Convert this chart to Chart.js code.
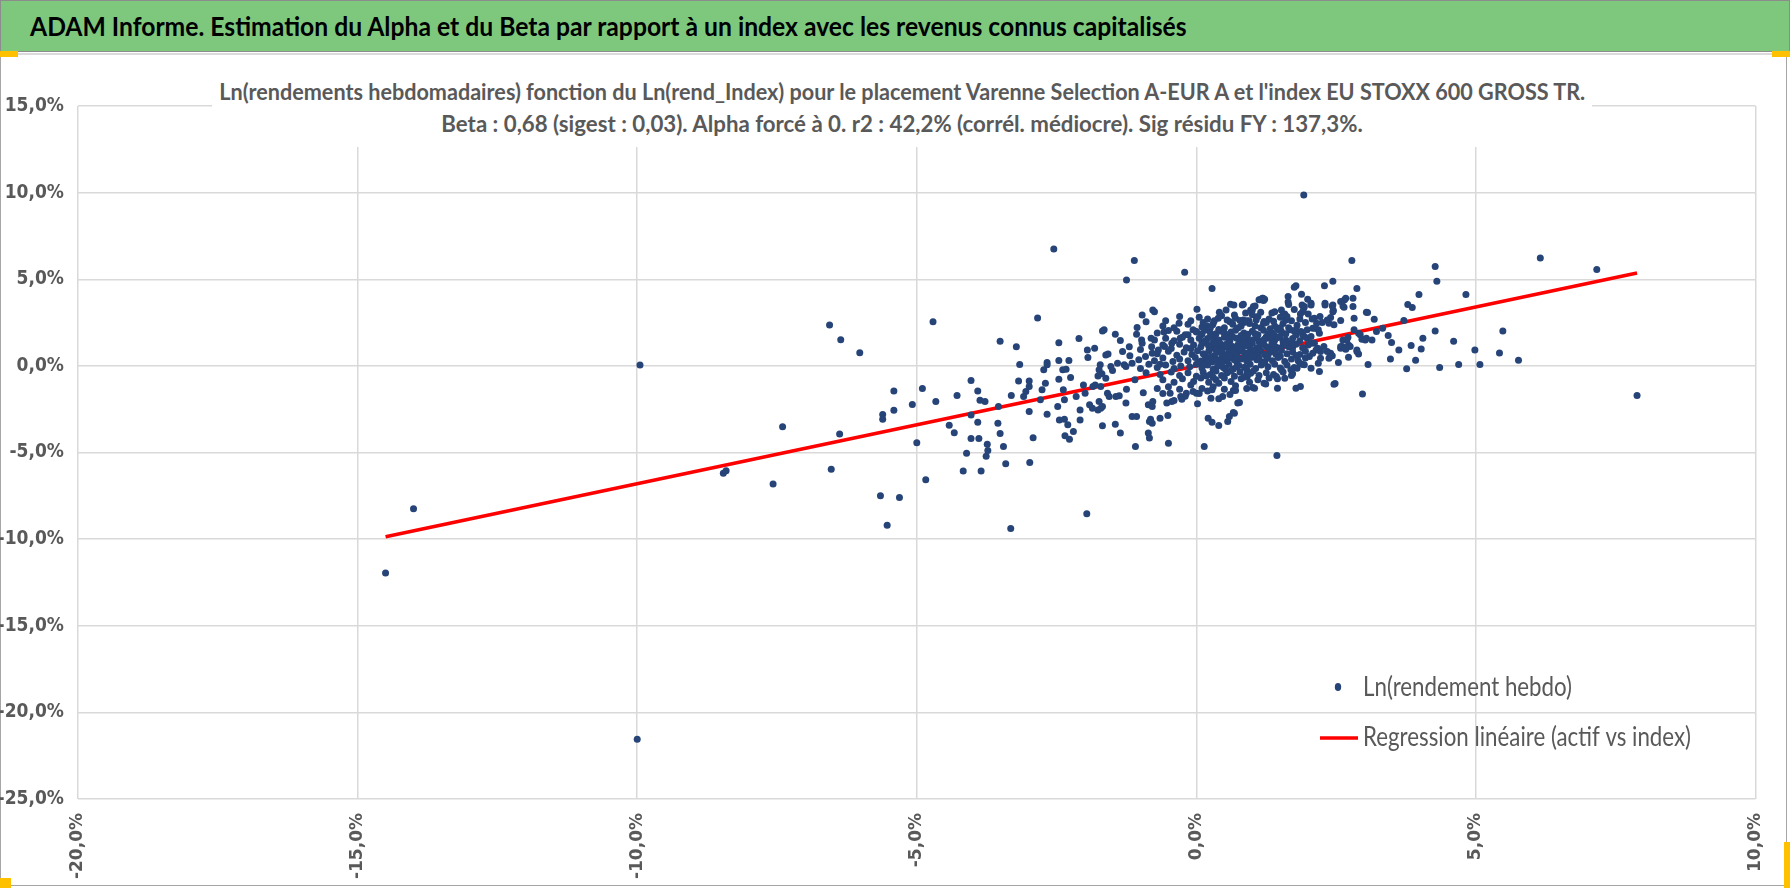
<!DOCTYPE html>
<html>
<head>
<meta charset="utf-8">
<title>ADAM Informe - Alpha et Beta</title>
<script src="https://cdn.jsdelivr.net/npm/chart.js@4.4.0/dist/chart.umd.min.js"></script>
<style>
  html, body { margin: 0; padding: 0; background: #fff; }
  body { width: 1790px; height: 888px; position: relative; overflow: hidden; font-family: Lato, sans-serif; }
  #banner { position: absolute; left: 0; top: 0; width: 1788px; height: 50px;
            background: #7ec87e; border: 1px solid #8c8c8c; }
  #titleText { position: absolute; left: 29px; top: 0; line-height: 50px; transform-origin: 0 50%;
               font-size: 27px; font-weight: bold; color: #000; white-space: nowrap; }
  #frame { position: absolute; left: 0; top: 53px; width: 1785px; height: 830px;
           border: 1px solid #a6a6a6; border-top: 2px solid #dadada; }
  #chart { position: absolute; left: 0; top: 0; }
  #subtitle { position: absolute; left: 212px; top: 59px; width: 1380px;
              padding: 16px 0 8px 0; background: #fff;
              color: #595959; font-weight: bold; font-size: 23px; line-height: 32px;
              white-space: nowrap; }
  #subtitle div { display: flex; justify-content: center; }
  #subtitle span { display: inline-block; transform-origin: 50% 50%; }
  .handle { position: absolute; background: #ffc000; }
</style>
</head>
<body>
<div id="banner"><span id="titleText">ADAM Informe. Estimation du Alpha et du Beta par rapport à un index avec les revenus connus capitalisés</span></div>
<div id="frame"></div>
<canvas id="chart" width="1790" height="888"></canvas>
<div id="subtitle"><div><span id="sub1">Ln(rendements hebdomadaires) fonction du Ln(rend_Index) pour le placement Varenne Selection A-EUR A et l'index EU STOXX 600 GROSS TR.</span></div><div><span id="sub2">Beta : 0,68 (sigest : 0,03). Alpha forcé à 0. r2 : 42,2% (corrél. médiocre). Sig résidu FY : 137,3%.</span></div></div>
<div class="handle" style="left:0;top:51px;width:18px;height:6px"></div>
<div class="handle" style="left:1772px;top:51px;width:18px;height:6px"></div>
<div class="handle" style="left:0;top:878px;width:11px;height:10px"></div>
<div class="handle" style="left:1784px;top:842px;width:6px;height:46px"></div>
<script>
const FONT = 'Lato, sans-serif';

// Axis ticks (in %)
const xTicks = [-20, -15, -10, -5, 0, 5, 10];
const yTicks = [15, 10, 5, 0, -5, -10, -15, -20, -25];

// Regression line end points (index %, fund %)
const regressionX = [-14.5, 7.88];
const regressionY = [-9.86, 5.36];

// Weekly ln returns: [index %, fund %]
const farPoints = [
    [-14.5, -11.95], [-14.0, -8.25], [-9.95, 0.05], [-10.0, -21.55], [7.88, -1.71],
    [1.92, 9.87], [6.15, 6.23], [7.16, 5.56], [-3.32, -9.38], [-1.96, -8.54],
    [1.44, -5.17], [-2.55, 6.75], [-1.11, 6.08], [2.78, 6.08]
];

const leftPoints = [
    [-6.56, 2.36], [-6.36, 1.51], [-6.02, 0.76], [-4.71, 2.54], [-7.40, -3.51], [-6.38, -3.93],
    [-8.46, -6.2], [-8.41, -6.05], [-7.57, -6.82], [-6.53, -5.97], [-5.65, -7.5], [-5.53, -9.2],
    [-5.31, -7.6], [-5.41, -1.45], [-5.41, -2.56], [-5.61, -2.81], [-5.61, -3.08], [-5.08, -2.23],
    [-4.90, -1.30], [-4.66, -2.05], [-5.0, -4.44], [-4.84, -6.57], [-4.42, -3.43], [-4.33, -3.86],
    [-4.28, -1.71], [-4.03, -0.85], [-3.91, -1.45], [-3.87, -1.98], [-3.78, -2.05], [-4.03, -2.83],
    [-3.91, -3.26], [-4.03, -4.19], [-3.89, -4.19], [-3.74, -4.53], [-3.73, -4.88], [-3.76, -5.21],
    [-4.11, -5.04], [-4.17, -6.07], [-3.85, -6.07],
    [-1.25, 4.96], [-0.21, 5.40], [0.28, 4.46], [-2.84, 2.77], [-3.51, 1.42], [-3.22, 1.10],
    [-2.46, 1.33], [-2.10, 1.58], [-3.41, -5.65], [-2.98, -5.58], [-2.92, -4.15], [-3.45, -4.65],
    [-3.51, -3.90], [-3.55, -3.31], [-3.54, -2.35], [-3.16, 0.08], [-3.18, -0.87], [-3.31, -1.71],
    [-3.09, -1.77], [-3.05, -1.48], [-2.99, -0.88], [-2.99, -1.19], [-2.99, -2.63], [-2.67, -2.79],
    [-2.79, -1.96], [-2.76, -1.38], [-2.7, -1.0], [-2.73, -0.23], [-2.67, 0.19], [-2.67, 0.06],
    [-2.46, 0.31], [-2.46, -0.77], [-2.48, -2.35], [-2.45, -3.12], [-2.36, -3.08], [-2.36, -1.96],
    [-2.38, -1.38], [-2.39, -0.23], [-2.33, -0.19], [-2.28, 0.31], [-2.25, -0.67], [-2.35, -4.04],
    [-2.27, -4.23], [-2.2, -3.79], [-2.3, -3.4], [-2.15, -1.77], [-2.08, -2.54], [-2.08, -3.12],
    [-2.02, -1.1], [-1.99, -1.58], [-1.95, 0.92], [-1.94, 0.48], [-1.91, -2.25], [-1.86, -2.44]
];

const midPoints = [
    [0.01, 3.27], [-0.97, 2.94], [-0.78, 3.23], [-0.75, 3.12], [-0.31, 2.46], [-1.65, 2.08],
    [-1.68, 2.02], [-1.45, 1.83], [-1.06, 2.21], [-1.07, 1.83], [-1.36, 1.46], [-0.58, 1.96],
    [-0.5, 2.04], [-0.81, 1.60], [-0.98, 1.5], [-0.97, 1.31], [-1.82, 1.02], [-1.62, 0.63],
    [-1.58, 0.69], [-1.32, 0.83], [-1.19, 0.58], [-1.72, 0.06], [-1.74, -0.23], [-1.53, -0.04],
    [-1.5, -0.27], [-1.41, 0.15], [-1.29, 0.06], [-1.76, -0.58], [-1.69, -0.46], [-1.62, -0.71],
    [-1.85, -1.19], [-1.81, -1.10], [-1.71, -1.19], [-1.59, -1.58], [-1.56, -1.77], [-1.38, -1.73],
    [-1.44, -1.77], [-1.74, -2.06], [-1.76, -2.54], [-1.71, -2.44], [-1.68, -2.35], [-1.26, -2.15],
    [-1.68, -3.46], [-1.45, -3.37], [-1.36, -3.88], [-1.15, -2.92], [-1.07, -2.92], [-1.09, -4.65],
    [-0.86, -3.88], [-0.84, -4.17], [-0.82, -3.08], [-0.79, -3.31], [-0.84, -3.21], [-0.86, -2.25],
    [-0.78, -2.06], [-0.79, -2.35], [-0.65, -3.02], [-0.51, -2.87], [-0.47, -1.58], [-0.44, -2.06],
    [-0.53, -2.15], [-0.5, -4.46], [-0.28, -1.77], [-0.26, -1.92], [-0.18, -1.58], [-0.06, -1.48],
    [0.0, -1.58], [0.02, -2.19], [0.14, -4.65], [0.21, -3.02], [0.28, -3.25], [0.4, -3.44],
    [0.26, -1.87], [0.28, -1.38], [0.47, -1.77], [0.56, -3.21], [0.59, -2.92], [0.66, -2.69],
    [0.74, -2.15], [0.66, -1.42], [1.01, -1.25], [1.21, -1.0], [0.91, -0.62], [0.97, -0.42],
    [0.41, 3.10], [0.39, 2.75], [0.53, 3.23], [0.61, 3.56], [0.68, 2.94], [0.82, 3.52],
    [0.84, 2.65], [0.97, 3.23], [1.02, 3.42], [1.12, 3.81], [1.18, 3.9], [0.94, 2.6],
    [1.07, 2.65], [1.21, 2.56], [0.29, 2.37], [0.18, 2.31], [0.09, 1.79], [-0.06, 2.08],
    [0.0, 1.98], [-0.15, 1.79], [-0.29, 1.6], [-0.44, 1.31], [-0.57, 1.12], [-0.68, 0.92],
    [-0.79, 0.73], [-0.91, 0.54], [-1.03, 0.35], [-1.15, 0.15], [-1.26, -0.04],
    [0.77, -2.12], [0.68, -2.73], [0.7, -1.42], [1.04, -1.29], [0.84, 3.56], [0.67, 3.52],
    [1.0, 3.23], [1.05, 3.46], [1.14, 3.81], [1.19, 3.9]
];

const corePoints = [
    [-0.1, 2.6], [0.2, 2.7], [0.45, 2.9], [0.7, 2.75], [0.9, 2.6], [1.1, 2.85], [1.3, 2.7],
    [1.5, 2.8], [1.7, 2.6], [0.05, 2.8], [0.6, 2.55], [1.0, 2.95], [1.85, 2.7],
    [-0.6, 2.3], [-0.4, 2.2], [-0.15, 2.4], [0.1, 2.25], [0.3, 2.45], [0.5, 2.2], [0.65, 2.4],
    [0.8, 2.3], [0.95, 2.45], [1.15, 2.2], [1.25, 2.5], [1.4, 2.3], [1.55, 2.45], [1.65, 2.2],
    [1.8, 2.35], [1.95, 2.5], [0.25, 2.2], [0.85, 2.5], [1.05, 2.3],
    [-0.7, 1.9], [-0.35, 2.0], [-0.2, 1.8], [0.0, 1.95], [0.15, 2.05], [0.35, 1.85], [0.45, 2.0],
    [0.55, 1.8], [0.7, 2.05], [0.85, 1.9], [1.0, 2.0], [1.1, 1.8], [1.2, 2.05], [1.35, 1.9],
    [1.45, 2.1], [1.6, 1.85], [1.75, 2.0], [1.9, 1.8], [0.25, 1.9], [0.62, 1.95], [0.92, 1.82],
    [1.28, 1.82], [1.52, 1.98], [1.68, 2.08],
    [-0.75, 1.5], [-0.55, 1.6], [-0.4, 1.45], [-0.25, 1.65], [-0.1, 1.5], [0.05, 1.6], [0.15, 1.42],
    [0.28, 1.7], [0.4, 1.5], [0.5, 1.65], [0.6, 1.45], [0.72, 1.6], [0.8, 1.4], [0.9, 1.7],
    [1.0, 1.5], [1.08, 1.62], [1.18, 1.45], [1.3, 1.6], [1.4, 1.48], [1.5, 1.7], [1.6, 1.5],
    [1.72, 1.58], [1.85, 1.45], [1.98, 1.6], [0.35, 1.55], [0.65, 1.68], [0.95, 1.42], [1.25, 1.68],
    [1.55, 1.4], [0.2, 1.58], [0.85, 1.55], [1.12, 1.4],
    [-0.8, 1.1], [-0.6, 1.2], [-0.45, 1.0], [-0.3, 1.25], [-0.18, 1.05], [-0.05, 1.2], [0.08, 1.1],
    [0.18, 1.3], [0.3, 1.02], [0.38, 1.2], [0.48, 1.08], [0.55, 1.28], [0.65, 1.12], [0.75, 1.25],
    [0.82, 1.0], [0.9, 1.18], [1.0, 1.3], [1.08, 1.05], [1.15, 1.22], [1.25, 1.1], [1.35, 1.28],
    [1.45, 1.05], [1.55, 1.2], [1.65, 1.1], [1.78, 1.25], [1.9, 1.05], [2.0, 1.2], [0.22, 1.15],
    [0.42, 1.3], [0.7, 1.05], [0.95, 1.1], [1.2, 1.3], [1.4, 1.15], [1.6, 1.3], [-0.1, 1.0], [0.6, 1.0],
    [-0.7, 0.7], [-0.5, 0.85], [-0.35, 0.62], [-0.22, 0.8], [-0.08, 0.65], [0.02, 0.88], [0.12, 0.7],
    [0.22, 0.85], [0.32, 0.6], [0.4, 0.78], [0.5, 0.65], [0.58, 0.9], [0.68, 0.72], [0.78, 0.85],
    [0.88, 0.62], [0.96, 0.8], [1.05, 0.7], [1.15, 0.88], [1.22, 0.65], [1.32, 0.8], [1.42, 0.68],
    [1.52, 0.9], [1.62, 0.7], [1.72, 0.82], [1.85, 0.65], [1.95, 0.85], [0.15, 0.62], [0.45, 0.9],
    [0.72, 0.6], [1.0, 0.9], [1.28, 0.6], [0.62, 0.8], [0.9, 0.75], [1.1, 0.6],
    [-0.75, 0.3], [-0.6, 0.45], [-0.42, 0.25], [-0.3, 0.4], [-0.15, 0.3], [-0.02, 0.48], [0.08, 0.28],
    [0.18, 0.42], [0.28, 0.22], [0.36, 0.38], [0.46, 0.5], [0.54, 0.3], [0.62, 0.45], [0.72, 0.25],
    [0.8, 0.4], [0.9, 0.28], [0.98, 0.48], [1.08, 0.35], [1.18, 0.22], [1.26, 0.42], [1.36, 0.3],
    [1.46, 0.48], [1.58, 0.25], [1.7, 0.4], [1.82, 0.3], [1.95, 0.45], [0.05, 0.2], [0.4, 0.3],
    [0.85, 0.5], [1.12, 0.45], [0.25, 0.5], [0.68, 0.35],
    [-0.7, -0.1], [-0.55, 0.05], [-0.4, -0.15], [-0.28, 0.0], [-0.12, -0.05], [0.0, 0.1], [0.1, -0.12],
    [0.2, 0.05], [0.3, -0.2], [0.38, 0.0], [0.48, -0.1], [0.58, 0.08], [0.66, -0.18], [0.76, 0.02],
    [0.86, -0.08], [0.96, 0.1], [1.06, -0.15], [1.16, 0.05], [1.28, -0.05], [1.4, 0.1], [1.5, -0.12],
    [1.62, 0.05], [1.75, -0.1], [1.9, 0.08], [0.15, 0.12], [0.52, -0.2], [0.9, -0.2],
    [-0.65, -0.5], [-0.45, -0.35], [-0.3, -0.55], [-0.15, -0.4], [0.0, -0.6], [0.12, -0.35],
    [0.25, -0.5], [0.35, -0.3], [0.45, -0.55], [0.55, -0.4], [0.68, -0.6], [0.78, -0.35], [0.9, -0.5],
    [1.02, -0.3], [1.12, -0.55], [1.25, -0.4], [1.38, -0.5], [1.55, -0.35], [1.7, -0.55], [0.18, -0.58],
    [0.62, -0.3],
    [-0.6, -0.8], [-0.4, -0.95], [-0.25, -0.75], [-0.05, -0.9], [0.08, -0.7], [0.22, -0.95],
    [0.35, -0.8], [0.5, -0.7], [0.62, -0.9], [0.8, -0.75], [0.95, -0.95], [1.1, -0.8], [1.3, -0.7],
    [0.4, -1.0],
    [-0.5, -1.2], [-0.3, -1.35], [-0.1, -1.1], [0.1, -1.3], [0.3, -1.2], [0.5, -1.35], [0.7, -1.15],
    [0.9, -1.3], [0.2, -1.45],
    [-0.6, -1.6], [-0.2, -1.75], [0.05, -1.6], [0.4, -1.9], [0.6, -1.65], [-0.4, -2.0],
    [0.32, 2.6], [0.78, 2.62], [1.38, 2.58], [1.6, 2.65], [0.12, 2.5], [0.55, 2.65], [1.2, 2.45],
    [0.4, 2.1], [0.75, 2.2], [1.32, 2.15], [1.5, 2.2], [0.1, 1.85], [0.5, 1.9], [0.8, 1.75],
    [1.05, 1.85], [1.4, 1.75], [1.78, 1.78], [0.3, 1.35], [0.58, 1.55], [1.22, 1.55], [1.45, 1.62],
    [1.7, 1.35], [0.1, 1.35], [0.5, 1.2], [0.85, 1.3], [1.3, 1.0], [1.72, 1.05], [0.35, 0.95],
    [0.8, 0.9], [1.38, 0.95], [1.78, 0.6], [0.2, 0.35], [0.58, 0.6], [1.02, 0.55], [1.5, 0.55],
    [0.45, 0.15], [0.72, -0.05], [1.22, 0.18], [1.85, 0.15], [0.3, -0.65], [0.85, -0.65], [1.45, -0.75],
    [1.35, 3.05], [1.58, 3.0], [1.75, 3.25], [1.62, 2.85], [1.15, 3.1], [0.88, 3.05], [2.0, 3.0],
    [-0.3, 2.85], [-0.55, 2.6], [-0.9, 2.55], [-1.2, 1.1], [-1.0, 0.95], [-0.9, -0.4], [-1.1, -0.8],
    [-1.25, -1.35], [-0.95, -1.55], [-0.7, -1.3], [-0.85, 0.1], [-1.0, -0.15], [-0.65, 0.1]
];

const rightPoints = [
    [4.27, 5.73], [4.30, 4.88], [4.82, 4.12], [2.44, 4.88], [2.29, 4.63], [2.87, 4.46],
    [1.78, 4.63], [1.75, 4.54], [3.98, 4.12], [3.78, 3.54], [3.86, 3.37], [3.18, 2.69],
    [3.04, 3.10], [3.06, 3.08], [3.71, 2.62], [3.33, 2.17], [3.43, 1.75], [3.49, 1.35],
    [3.62, 0.92], [3.84, 1.17], [4.02, 0.98], [4.05, 1.60], [4.27, 2.02], [4.60, 1.42],
    [4.98, 0.92], [5.07, 0.08], [4.69, 0.08], [4.35, -0.10], [3.76, -0.17], [3.92, 0.33],
    [3.47, 0.40], [3.07, 0.08], [2.97, -1.62], [2.48, -1.02], [2.54, 0.19], [5.48, 2.02],
    [5.42, 0.75], [5.76, 0.33],
    [1.64, 3.69], [1.65, 3.54], [1.88, 4.13], [1.99, 3.85], [2.05, 3.62], [2.58, 3.71],
    [2.65, 3.81], [2.62, 3.46], [2.8, 3.9], [2.8, 3.42], [2.3, 3.62], [2.43, 3.46],
    [2.45, 3.19], [2.82, 2.75], [2.82, 2.08], [2.58, 2.62], [2.34, 2.65], [2.37, 2.46],
    [2.25, 2.5], [2.15, 2.46], [2.08, 2.17], [2.11, 2.75], [1.9, 3.13], [1.93, 3.42],
    [1.86, 3.0], [1.52, 3.23], [1.4, 3.13], [1.22, 3.85], [1.2, 3.77],
    [2.72, 0.5], [2.9, 0.69], [2.87, 0.92], [2.93, 1.79], [2.96, 1.54], [3.04, 1.6],
    [3.14, 1.5], [3.22, 1.98], [2.72, 1.21], [2.75, 1.12], [2.61, 1.12], [2.58, 1.02],
    [2.71, 1.65], [2.62, 1.5], [2.68, 1.02], [2.4, 0.73], [2.43, 0.58], [2.37, 0.44],
    [2.22, 0.44], [2.18, 0.15], [2.05, -0.13], [2.2, -0.33], [2.22, 0.83], [2.17, 1.02],
    [2.28, 1.12], [2.05, 1.69], [2.2, 1.88], [2.11, 1.31], [1.93, 1.69], [1.87, 1.98],
    [1.78, 2.08], [2.46, -1.06], [1.86, -1.19], [1.78, -1.29], [1.45, -1.29], [1.24, -1.04],
    [1.43, -0.62], [1.58, -0.71], [1.72, -0.46], [1.8, -0.13], [1.93, 0.06],
    [2.64, 3.38], [2.67, 3.9], [2.44, 3.52], [2.44, 3.13], [2.46, 2.37], [2.3, 3.52],
    [2.4, 2.79], [2.21, 2.85], [2.18, 2.08], [2.12, 2.17], [2.07, 2.71], [2.05, 3.52],
    [1.89, 3.52], [1.92, 3.33], [1.98, 2.08], [2.05, 1.31], [2.08, 0.73], [2.02, 0.54],
    [2.14, 0.92], [2.34, 0.83], [2.39, 0.54], [2.58, 1.12], [2.67, 0.96], [2.69, 1.5],
    [2.87, 0.83], [2.9, 1.88], [3.02, 1.5], [1.52, -0.23], [1.69, -0.23], [1.64, 4.0], [1.55, 2.94]
];

const allPoints = farPoints.concat(leftPoints, midPoints, corePoints, rightPoints);

function pct(v) {
    return v.toFixed(1).replace('.', ',') + '%';
}

// squeeze a text horizontally to the width it takes in the spreadsheet picture (Calibri is narrow)
const measureCtx = document.createElement('canvas').getContext('2d');
function squeeze(text, font, width) {
    measureCtx.font = font;
    return width / measureCtx.measureText(text).width;
}

const titleEl = document.getElementById('titleText');
titleEl.style.transform = 'scaleX(' + squeeze(titleEl.textContent, 'bold 27px ' + FONT, 1158).toFixed(4) + ')';
const sub1 = document.getElementById('sub1');
const sub2 = document.getElementById('sub2');
sub1.style.transform = 'scaleX(' + squeeze(sub1.textContent, 'bold 23px ' + FONT, 1370).toFixed(4) + ')';
sub2.style.transform = 'scaleX(' + squeeze(sub2.textContent, 'bold 23px ' + FONT, 923).toFixed(4) + ')';
const LEGEND_FONT = '26px ' + FONT;
const legendScale = squeeze('Ln(rendement hebdo)', LEGEND_FONT, 209);

// Legend drawn inside the plot, like the spreadsheet one
const insideLegend = {
    id: 'insideLegend',
    afterDraw(chart) {
        const ctx = chart.ctx;
        const dots = chart.data.datasets[0];
        const line = chart.data.datasets[1];
        ctx.save();
        ctx.fillStyle = dots.backgroundColor;
        ctx.beginPath();
        ctx.ellipse(1338, 687, 3.2, 4, 0, 0, Math.PI * 2);
        ctx.fill();
        ctx.strokeStyle = line.borderColor;
        ctx.lineWidth = line.borderWidth;
        ctx.beginPath();
        ctx.moveTo(1320, 738);
        ctx.lineTo(1358, 738);
        ctx.stroke();
        ctx.fillStyle = '#595959';
        ctx.font = LEGEND_FONT;
        ctx.textBaseline = 'middle';
        ctx.translate(1363, 0);
        ctx.scale(legendScale, 1);
        ctx.fillText(dots.label, 0, 688);
        ctx.fillText(line.label, 0, 738);
        ctx.restore();
    }
};

new Chart(document.getElementById('chart'), {
    type: 'scatter',
    data: {
        datasets: [{
            label: 'Ln(rendement hebdo)',
            data: allPoints.map(p => ({ x: p[0], y: p[1] })),
            backgroundColor: '#264478',
            borderColor: '#264478',
            pointRadius: 3.5,
            pointBorderWidth: 0
        }, {
            label: 'Regression linéaire (actif vs index)',
            data: regressionX.map((x, i) => ({ x: x, y: regressionY[i] })),
            showLine: true,
            borderColor: '#ff0000',
            borderWidth: 3.5,
            pointRadius: 0
        }]
    },
    options: {
        responsive: false,
        animation: false,
        layout: { padding: { top: 106, right: 18, left: 0, bottom: 0 } },
        plugins: {
            legend: { display: false },
            tooltip: { enabled: false }
        },
        scales: {
            x: {
                type: 'linear',
                min: -20,
                max: 10,
                afterBuildTicks: scale => { scale.ticks = xTicks.map(v => ({ value: v })); },
                afterFit: scale => { scale.height = 89; },
                grid: { color: '#d9d9d9', lineWidth: 1.5, drawTicks: false },
                border: { display: false },
                ticks: {
                    autoSkip: false,
                    minRotation: 90,
                    maxRotation: 90,
                    padding: 14,
                    color: '#595959',
                    font: { family: "'DejaVu Sans'", size: 17, weight: 'bold' },
                    callback: v => pct(v)
                }
            },
            y: {
                type: 'linear',
                min: -25,
                max: 15,
                afterBuildTicks: scale => { scale.ticks = yTicks.map(v => ({ value: v })); },
                afterFit: scale => { scale.width = 78; },
                grid: { color: '#d9d9d9', lineWidth: 1.5, drawTicks: false },
                border: { display: false },
                ticks: {
                    padding: 14,
                    color: '#595959',
                    font: { family: "'DejaVu Sans Condensed', sans-serif", size: 19, weight: 'bold' },
                    callback: v => pct(v)
                }
            }
        }
    },
    plugins: [insideLegend]
});
</script>
</body>
</html>
